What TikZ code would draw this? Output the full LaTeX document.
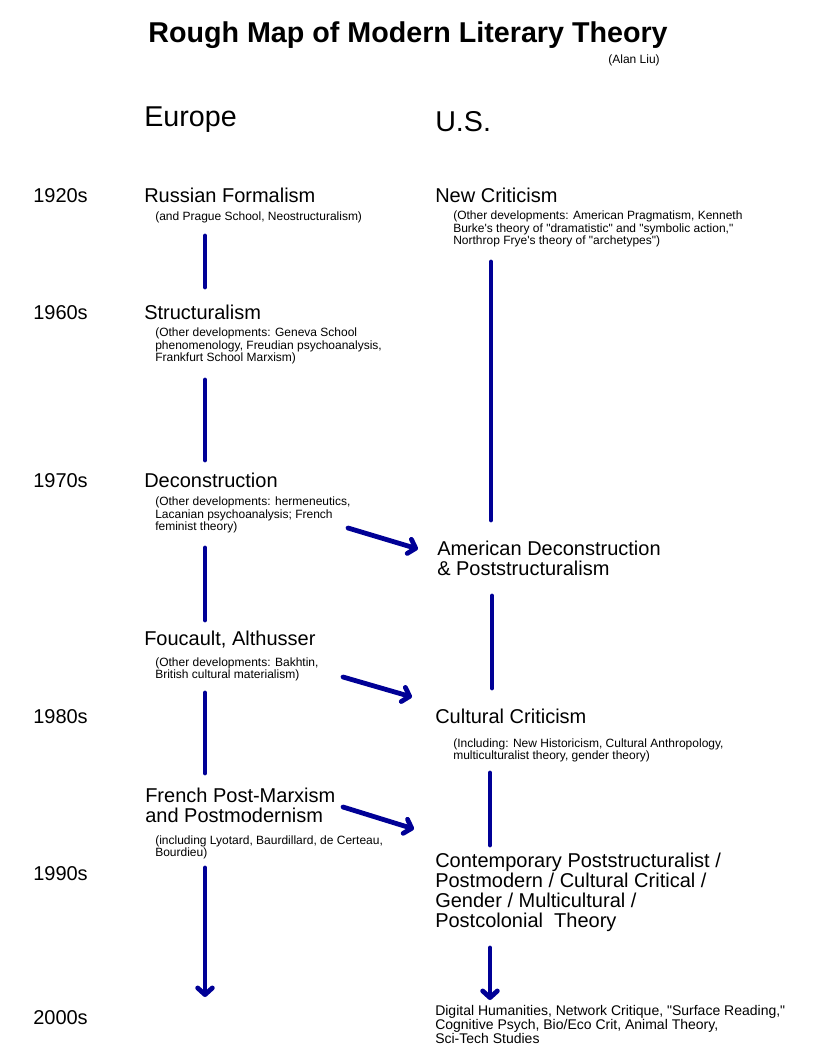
\documentclass[tikz,border=0pt]{standalone}
\usepackage{fontspec}
\setmainfont{Liberation Sans}[Ligatures=TeXOff]
\usetikzlibrary{arrows.meta}
\definecolor{inkblue}{RGB}{0,0,150}

\begin{document}
\begin{tikzpicture}[x=.75pt,y=-.75pt,
  region/.style={anchor=base west,inner sep=0pt,font=\fontsize{21.5}{21.5}\selectfont},
  decade/.style={anchor=base west,inner sep=0pt,font=\fontsize{15}{15}\selectfont},
  school/.style={anchor=base west,inner sep=0pt,align=left,font=\fontsize{15}{15}\selectfont},
  note/.style={anchor=base west,inner sep=0pt,align=left,font=\fontsize{9}{9.2}\selectfont},
  link/.style={draw=inkblue,line width=3.6pt,line cap=round},
  flow/.style={link,-{Straight Barb[length=5pt,width=11pt,round]}}]
  \useasboundingbox (0,0) rectangle (816,1056);
  \node[anchor=base,inner sep=0pt,font=\bfseries\fontsize{21.5}{21.5}\selectfont]
    (title) at (408,43) {Rough Map of Modern Literary Theory};
  \node[note,anchor=base east] (author) at (660,64) {(Alan Liu)};
  \node[region] (europe) at (144,126) {Europe};
  \node[region] (us) at (435,131) {U.S.};
  % decades
  \node[decade] (d1920) at (33,202) {1920s};
  \node[decade] (d1960) at (33,319) {1960s};
  \node[decade] (d1970) at (33,487) {1970s};
  \node[decade] (d1980) at (33,723) {1980s};
  \node[decade] (d1990) at (33,880) {1990s};
  \node[decade] (d2000) at (33,1024) {2000s};
  % Europe (multi-line nodes sit on the baseline of their last line)
  \node[school] (formalism) at (144,202) {Russian Formalism};
  \node[note] (formalismnote) at (155,220) {(and Prague School, Neostructuralism)};
  \node[school] (structuralism) at (144,319) {Structuralism};
  \node[note] (structuralismnote) at (155,361.5) {(Other developments: Geneva School\\
    phenomenology, Freudian psychoanalysis,\\Frankfurt School Marxism)};
  \node[school] (decon) at (144,487) {Deconstruction};
  \node[note] (deconnote) at (155,530.5) {(Other developments: hermeneutics,\\
    Lacanian psychoanalysis; French\\feminist theory)};
  \node[school] (foucault) at (144,645) {Foucault, Althusser};
  \node[note] (foucaultnote) at (155,678.3) {(Other developments: Bakhtin,\\
    British cultural materialism)};
  \node[school] (postmarx) at (145,822) {French Post-Marxism\\and Postmodernism};
  \node[note] (postmarxnote) at (155,856.3) {(including Lyotard, Baurdillard, de Certeau,\\
    Bourdieu)};
  % U.S.
  \node[school] (newcrit) at (435,202) {New Criticism};
  \node[note] (newcritnote) at (453,244.5) {(Other developments: American Pragmatism, Kenneth\\
    Burke's theory of "dramatistic" and "symbolic action,"\\
    Northrop Frye's theory of "archetypes")};
  \node[school] (amdecon) at (437,575) {American Deconstruction\\\& Poststructuralism};
  \node[school] (cultcrit) at (435,723) {Cultural Criticism};
  \node[note] (cultcritnote) at (453,759.3) {(Including: New Historicism, Cultural Anthropology,\\
    multiculturalist theory, gender theory)};
  \node[school] (contemp) at (435,927) {Contemporary Poststructuralist /\\
    Postmodern / Cultural Critical /\\Gender / Multicultural /\\Postcolonial\ \ Theory};
  \node[note,font=\fontsize{10.5}{10.5}\selectfont] (digital) at (435,1043)
    {Digital Humanities, Network Critique, "Surface Reading,"\\
    Cognitive Psych, Bio/Eco Crit, Animal Theory,\\Sci-Tech Studies};
  % connector ends
  \coordinate (e1a) at (205,236); \coordinate (e1b) at (205,287);
  \coordinate (e2a) at (205,380); \coordinate (e2b) at (205,460);
  \coordinate (e3a) at (205,548); \coordinate (e3b) at (205,620);
  \coordinate (e4a) at (205,693); \coordinate (e4b) at (205,773);
  \coordinate (e5a) at (205,868); \coordinate (e5b) at (205,997);
  \coordinate (u1a) at (491,262); \coordinate (u1b) at (491,520);
  \coordinate (u2a) at (492,596); \coordinate (u2b) at (492,688);
  \coordinate (u3a) at (490,773); \coordinate (u3b) at (490,845);
  \coordinate (u4a) at (490,948); \coordinate (u4b) at (490,1000);
  \coordinate (x1a) at (348,528); \coordinate (x1b) at (418,549);
  \coordinate (x2a) at (343,677); \coordinate (x2b) at (412,697);
  \coordinate (x3a) at (343,807); \coordinate (x3b) at (414,829);
  \draw[link] (e1a) -- (e1b);
  \draw[link] (e2a) -- (e2b);
  \draw[link] (e3a) -- (e3b);
  \draw[link] (e4a) -- (e4b);
  \draw[flow] (e5a) -- (e5b);
  \draw[link] (u1a) -- (u1b);
  \draw[link] (u2a) -- (u2b);
  \draw[link] (u3a) -- (u3b);
  \draw[flow] (u4a) -- (u4b);
  \draw[flow] (x1a) -- (x1b);
  \draw[flow] (x2a) -- (x2b);
  \draw[flow] (x3a) -- (x3b);
\end{tikzpicture}
\end{document}
